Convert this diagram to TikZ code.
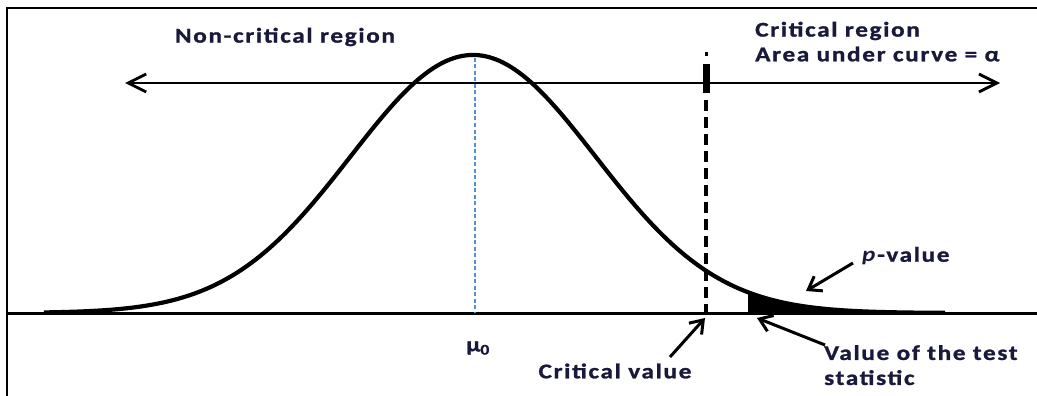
\documentclass[tikz,border=0pt]{standalone}
\usepackage{fontspec}
\setmainfont{Carlito}[FakeStretch=1.2,LetterSpace=8,BoldFeatures={FakeBold=1.2}]
\usetikzlibrary{arrows.meta}
\definecolor{txt}{RGB}{25,25,60}
\definecolor{mublue}{RGB}{80,145,215}
\begin{document}
\begin{tikzpicture}[x=1pt,y=-1pt,
  lbl/.style={text=txt,font=\fontsize{21}{23}\selectfont\bfseries,inner sep=0pt},
  pointer/.style={line width=3pt,-{Straight Barb[length=12pt,width=17pt,line width=3pt]}},
  bell/.style={line width=4.2pt},
  axisline/.style={line width=3pt}]
\useasboundingbox (0,0) rectangle (1037,396);
% frame
\draw[line width=2.2pt] (7,396) -- (7,8) -- (1037,8);
% baseline
\draw[axisline] (7,313) -- (1037,313);
% shaded tail
\fill plot[domain=748:945,samples=80] (\x,{313-258*exp(-((\x-473)/122.5)^2/2)}) -- (945,313) -- (748,313) -- cycle;
% bell curve
\draw[bell] plot[domain=44:945,samples=300] (\x,{313-258*exp(-((\x-473)/122.5)^2/2)});
% mean line
\draw[mublue,line width=1.6pt,dash pattern=on 4pt off 2.5pt] (475,58) -- (475,313);
% double arrow
\coordinate (aL) at (125,83);
\coordinate (aR) at (1000,83);
\draw[line width=2.8pt,{Straight Barb[length=18pt,width=18pt,line width=2.8pt]}-{Straight Barb[length=18pt,width=18pt,line width=2.8pt]}] (aL) -- (aR);
% critical line
\coordinate (cTop) at (706,100);
\coordinate (cBot) at (706,313);
\draw[line width=3.6pt,dash pattern=on 11pt off 6pt] (cTop) -- (cBot);
\fill (704.5,52) rectangle (707.5,56);
\fill (702.5,64) rectangle (709.5,93);
% labels
\node[lbl,anchor=center] (ncr) at (285,37) {Non-critical region};
\node[lbl,anchor=west] (cr) at (755,31) {Critical region};
\node[lbl,anchor=west] (auc) at (755,54) {Area under curve = α};
\node[lbl,anchor=center] (mu) at (478,348) {μ\textsubscript{0}};
\node[lbl,anchor=center] (cv) at (615,371) {Critical value};
\node[lbl,anchor=west] (pv) at (862,256) {\textit{p}-value};
\node[lbl,anchor=north west,align=left,font=\fontsize{21}{25}\selectfont\bfseries] (ts) at (824,345) {Value of the test\\statistic};
% pointers
\coordinate (pvT) at (853,263);
\coordinate (pvH) at (806,291);
\coordinate (tsT) at (825,345);
\coordinate (tsH) at (757,318);
\coordinate (cvT) at (670,357);
\coordinate (cvH) at (705,318);
\draw[pointer] (pvT) -- (pvH);
\draw[pointer] (tsT) -- (tsH);
\draw[pointer] (cvT) -- (cvH);
\end{tikzpicture}
\end{document}
